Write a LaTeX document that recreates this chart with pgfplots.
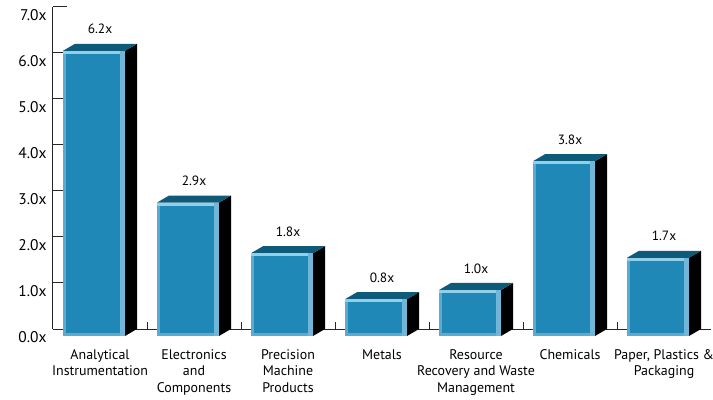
\documentclass[border=0pt]{standalone}
\usepackage{pgfplots}
\pgfplotsset{compat=1.18}
\usepackage{fontspec}
\setmainfont{PT Sans}
\definecolor{barinner}{HTML}{2088B6}
\definecolor{barbevel}{HTML}{5CAAD0}
\definecolor{bartop}{HTML}{0E5A79}
\definecolor{barhi}{HTML}{92CFEA}
\definecolor{barright}{HTML}{6FB6D8}
\definecolor{barside}{HTML}{000000}
\pgfdeclareplotmark{box3d}{%
  \pgfmathsetmacro\hh{\vy*46}%
  % side face
  \pgfsetfillcolor{barside}%
  \pgfpathmoveto{\pgfpoint{25bp}{-7bp}}%
  \pgfpathlineto{\pgfpoint{37bp}{0bp}}%
  \pgfpathlineto{\pgfpoint{37bp}{-\hh bp}}%
  \pgfpathlineto{\pgfpoint{25bp}{-\hh bp-7bp}}%
  \pgfpathclose
  \pgfusepath{fill}%
  % top face
  \pgfsetfillcolor{bartop}%
  \pgfpathmoveto{\pgfpoint{-37bp}{-7bp}}%
  \pgfpathlineto{\pgfpoint{-25bp}{0bp}}%
  \pgfpathlineto{\pgfpoint{37bp}{0bp}}%
  \pgfpathlineto{\pgfpoint{25bp}{-7bp}}%
  \pgfpathclose
  \pgfusepath{fill}%
  % front face outer bevel
  \pgfsetfillcolor{barbevel}%
  \pgfpathrectanglecorners{\pgfpoint{-37bp}{-\hh bp-7bp}}{\pgfpoint{25bp}{-7bp}}%
  \pgfusepath{fill}%
  % top highlight
  \pgfsetfillcolor{barhi}%
  \pgfpathrectanglecorners{\pgfpoint{-37bp}{-10bp}}{\pgfpoint{25bp}{-7bp}}%
  \pgfusepath{fill}%
  % right strip
  \pgfsetfillcolor{barright}%
  \pgfpathrectanglecorners{\pgfpoint{20bp}{-\hh bp-7bp}}{\pgfpoint{25bp}{-7bp}}%
  \pgfusepath{fill}%
  % inner face
  \pgfsetfillcolor{barinner}%
  \pgfpathrectanglecorners{\pgfpoint{-34bp}{-\hh bp-4bp}}{\pgfpoint{20bp}{-10bp}}%
  \pgfusepath{fill}%
}
\begin{document}
\begin{tikzpicture}
\begin{axis}[
  name=ax,
  scale only axis,
  x=94bp, y=46bp,
  xmin=-0.5, xmax=6.5, ymin=0, ymax=7,
  clip=false,
  axis lines=left,
  axis line style={-, line width=1bp, black!85},
  tick align=inside,
  /pgf/number format/assume math mode=true,
  ytick={0,1,2,3,4,5,6,7},
  yticklabels={0.0x,1.0x,2.0x,3.0x,4.0x,5.0x,6.0x,7.0x},
  yticklabel style={font=\fontsize{15.5}{17}\selectfont, yshift=-8bp, xshift=-3bp},
  xtick={0,1,2,3,4,5,6},
  xticklabels={{Analytical\\Instrumentation},{Electronics\\and\\Components},{Precision\\Machine\\Products},{Metals},{Resource\\Recovery and Waste\\Management},{Chemicals},{Paper, Plastics \&\\Packaging}},
  xticklabel style={font=\fontsize{14}{16.5}\selectfont, align=center, yshift=-17bp},
  minor xtick={0.5,1.5,2.5,3.5,4.5,5.5},
  major tick length=14bp,
  minor tick length=7bp,
  major x tick style={draw=none},
  minor x tick style={line width=1bp, black!85},
  major y tick style={line width=1bp, black!85},
  point meta=y,
  nodes near coords={\pgfmathprintnumber[fixed,fixed zerofill,precision=1]{\pgfplotspointmeta}x},
  every node near coord/.append style={anchor=base, yshift=10bp, font=\fontsize{13.5}{15}\selectfont, text=black},
]
\addplot[only marks, mark=box3d, visualization depends on={rawy \as \vy}] coordinates {
  (0,6.2) (1,2.9) (2,1.8) (3,0.8) (4,1.0) (5,3.8) (6,1.7)
};
\end{axis}
\pgfresetboundingbox
\path ([xshift=-53bp,yshift=-71bp]ax.south west) rectangle ([xshift=2bp,yshift=7bp]ax.north east);
\end{tikzpicture}
\end{document}
